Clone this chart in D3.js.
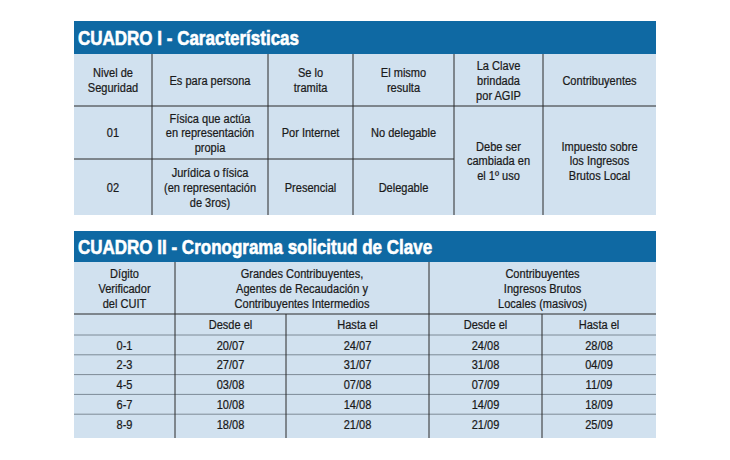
<!DOCTYPE html>
<html><head><meta charset="utf-8">
<script src="https://cdn.jsdelivr.net/npm/d3@7"></script>
<style>
html,body{margin:0;padding:0;background:#fff;}
svg{display:block;}
text{font-family:"Liberation Sans",Arial,sans-serif;}
</style></head><body>
<svg id="c" width="730" height="460"></svg>
<script>
// ---- data ----
const title1 = "CUADRO I - Características";
const headers1 = [["Nivel de","Seguridad"],["Es para persona"],["Se lo","tramita"],["El mismo","resulta"],["La Clave","brindada","por AGIP"],["Contribuyentes"]];
const niveles = ["01","02"];
const personas = [["Física que actúa","en representación","propia"],["Jurídica o física","(en representación","de 3ros)"]];
const tramites = ["Por Internet","Presencial"];
const resultados = ["No delegable","Delegable"];
const clave = ["Debe ser","cambiada en","el 1º uso"];
const contribuyentes = ["Impuesto sobre","los Ingresos","Brutos Local"];

const title2 = "CUADRO II - Cronograma solicitud de Clave";
const header2First = ["Dígito","Verificador","del CUIT"];
const groups2 = [["Grandes Contribuyentes,","Agentes de Recaudación y","Contribuyentes Intermedios"],["Contribuyentes","Ingresos Brutos","Locales (masivos)"]];
const subHeaders2 = ["Desde el","Hasta el","Desde el","Hasta el"];
const digitos = ["0-1","2-3","4-5","6-7","8-9"];
const grandesDesde = ["20/07","27/07","03/08","10/08","18/08"];
const grandesHasta = ["24/07","31/07","07/08","14/08","21/08"];
const masivosDesde = ["24/08","31/08","07/09","14/09","21/09"];
const masivosHasta = ["28/08","04/09","11/09","18/09","25/09"];

// ---- styles ----
const BLUE = "#0f69a3", CELL = "#d1e1ef", LINE = "#2a2a2a", LIGHT = "#7d8a96", TXT = "#1a1a1a";
const svg = d3.select("#c");
const FS = 13.3, LH = 14.8, SX = 0.83;

function multi(g, lines, x, y, opts={}) {
  const n = lines.length;
  const t = g.append("text").attr("transform", `translate(${x},${y}) scale(${SX},1)`)
    .attr("text-anchor", "middle").attr("fill", TXT)
    .attr("stroke", TXT).attr("stroke-width", 0.25)
    .attr("font-size", opts.fs || FS);
  lines.forEach((l,i)=>{
    t.append("tspan").attr("x", 0).attr("y", (i-(n-1)/2)*(opts.lh||LH)).attr("dy","0.36em").text(l);
  });
}
function hline(g,x1,x2,y,c,w){g.append("line").attr("x1",x1).attr("x2",x2).attr("y1",y).attr("y2",y).attr("stroke",c||LINE).attr("stroke-width",w||1);}
function vline(g,x,y1,y2,c,w){g.append("line").attr("x1",x).attr("x2",x).attr("y1",y1).attr("y2",y2).attr("stroke",c||LINE).attr("stroke-width",w||1);}
function titleBar(g,x0,x1,y0,y1,txt){
  g.append("rect").attr("x",x0).attr("y",y0).attr("width",x1-x0).attr("height",y1-y0).attr("fill",BLUE);
  g.append("text").attr("transform",`translate(${x0+4},${(y0+y1)/2}) scale(0.81,1)`).attr("dy","0.36em")
    .attr("fill","#fff").attr("stroke","#fff").attr("stroke-width",0.6)
    .attr("font-weight","bold").attr("font-size",21).text(txt);
}

// ---- Table I ----
{
  const g = svg.append("g");
  const X0 = 74, X1 = 656;
  const cols = d3.scaleOrdinal().domain(d3.range(7)).range([74,152,268,353,454,543,656]);
  const rows = d3.scaleOrdinal().domain(["top","head","r0","r1","end"]).range([21,54,106,159,215]);
  titleBar(g,X0,X1,rows("top"),rows("head"),title1);
  g.append("rect").attr("x",X0).attr("y",rows("head")).attr("width",X1-X0).attr("height",rows("end")-rows("head")).attr("fill",CELL);
  const cx = i => (cols(i)+cols(i+1))/2;
  headers1.forEach((h,i)=>multi(g,h,cx(i),(rows("head")+rows("r0"))/2));
  const rowKeys = ["r0","r1"], nextKey = {r0:"r1", r1:"end"};
  niveles.forEach((v,r)=>{
    const y = (rows(rowKeys[r])+rows(nextKey[rowKeys[r]]))/2;
    multi(g,[v],cx(0),y);
    multi(g,personas[r],cx(1),y);
    multi(g,[tramites[r]],cx(2),y);
    multi(g,[resultados[r]],cx(3),y);
  });
  const ym = (rows("r0")+rows("end"))/2;
  multi(g,clave,cx(4),ym);
  multi(g,contribuyentes,cx(5),ym);
  hline(g,X0,X1,rows("r0"));
  hline(g,X0,cols(4),rows("r1"));
  [1,2,3,4,5].forEach(i=>vline(g,cols(i),rows("head"),rows("end")));
}

// ---- Table II ----
{
  const g = svg.append("g");
  const X0 = 74, X1 = 656;
  const cols = d3.scaleOrdinal().domain(d3.range(6)).range([74,175,286,429,542,656]);
  const top = 231, head = 262, sub = 314, body = 335, bottom = 438;
  const rowY = d3.scaleBand().domain(digitos).range([body, body + 19.8*digitos.length]);
  titleBar(g,X0,X1,top,head,title2);
  g.append("rect").attr("x",X0).attr("y",head).attr("width",X1-X0).attr("height",bottom-head).attr("fill",CELL);
  const cx = i => (cols(i)+cols(i+1))/2;
  multi(g,header2First,cx(0),(head+sub)/2);
  groups2.forEach((gr,k)=>multi(g,gr,(cols(1+2*k)+cols(3+2*k))/2,(head+sub)/2));
  subHeaders2.forEach((s,i)=>multi(g,[s],cx(i+1),(sub+body)/2));
  const cols2 = [digitos,grandesDesde,grandesHasta,masivosDesde,masivosHasta];
  digitos.forEach((d,r)=>{
    const y = rowY(d)+rowY.bandwidth()/2;
    cols2.forEach((arr,c)=>multi(g,[arr[r]],cx(c),y));
    if (r>0) hline(g,X0,X1,rowY(d),LIGHT,1);
  });
  hline(g,X0,X1,sub);
  hline(g,X0,X1,body,LIGHT,1);
  vline(g,cols(1),head,bottom);
  vline(g,cols(3),head,bottom);
  vline(g,cols(2),sub,bottom);
  vline(g,cols(4),sub,bottom);
}
</script>
</body></html>
